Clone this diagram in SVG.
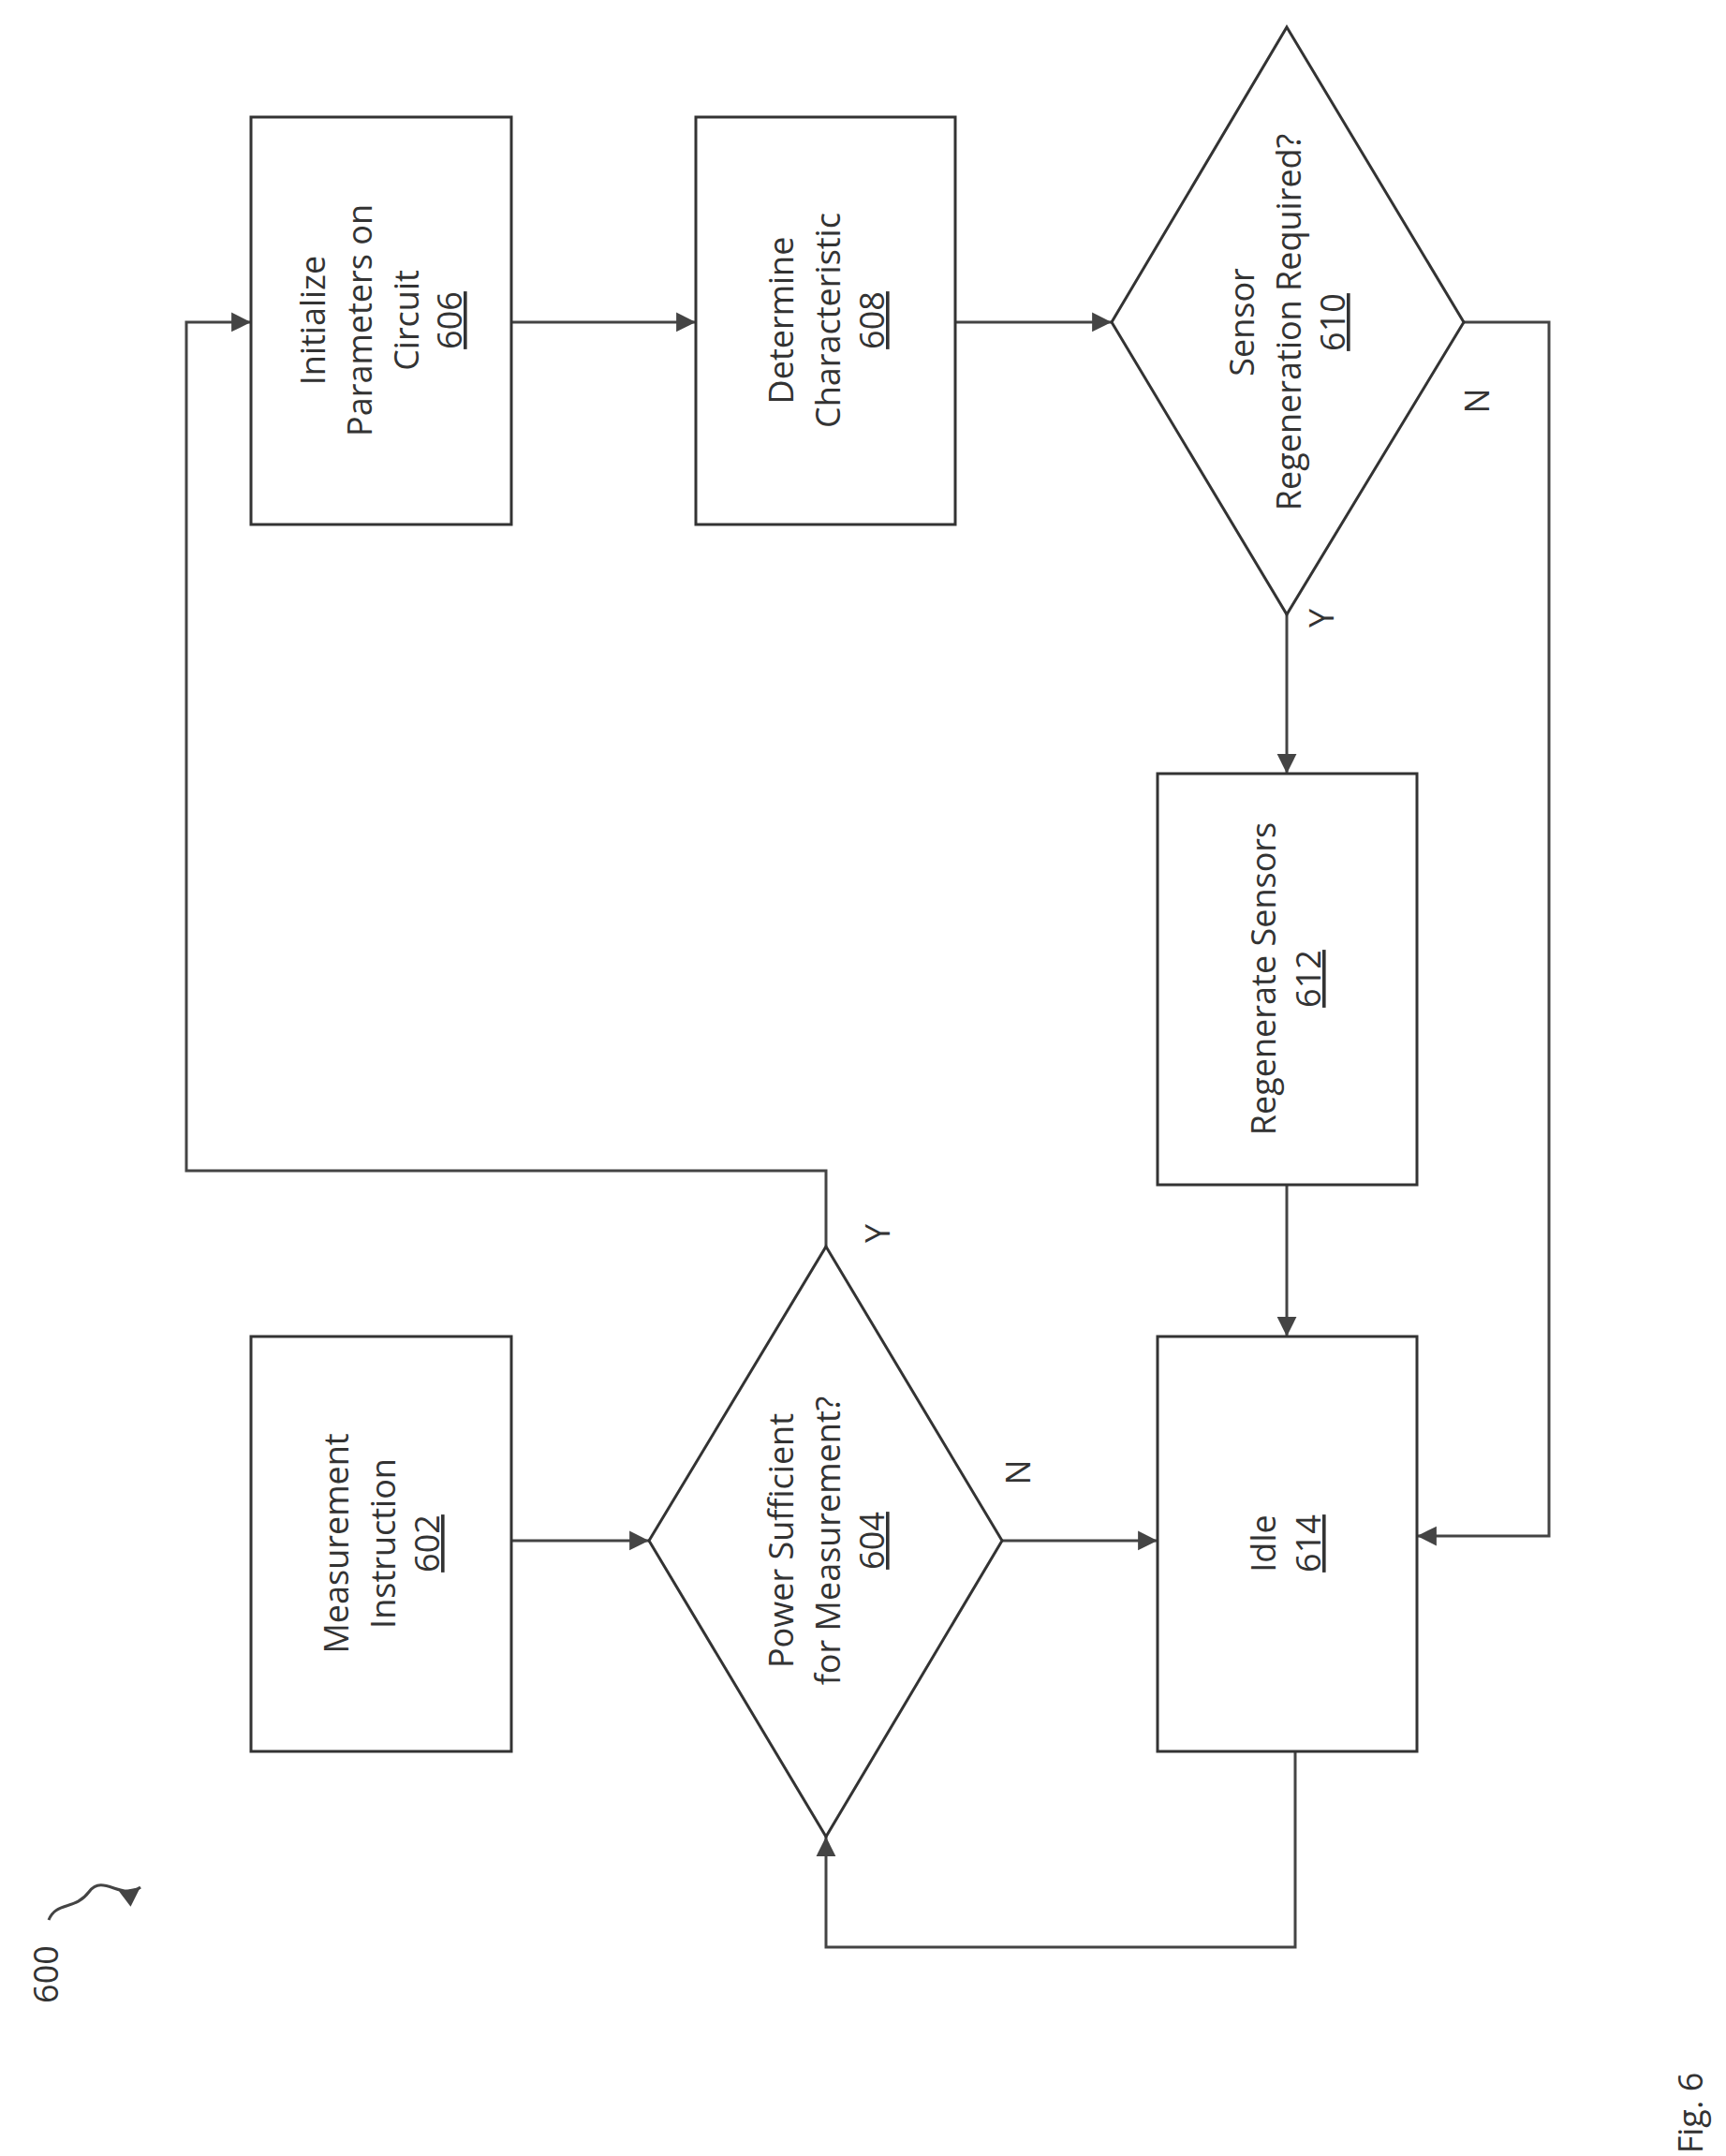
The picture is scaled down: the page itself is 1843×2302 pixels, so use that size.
<svg xmlns="http://www.w3.org/2000/svg" width="1843" height="2302" viewBox="0 0 1843 2302">
<style>
.n{fill:#fff;stroke:#333;stroke-width:3}
.c{fill:none;stroke:#444;stroke-width:3}
text{font-family:"Open Sans","Liberation Sans",sans-serif;font-size:36px;fill:#333;text-anchor:middle}
.u{text-decoration:underline}
</style>
<defs>
<marker id="a" viewBox="0 0 10 10" refX="10" refY="5" markerWidth="8" markerHeight="8" markerUnits="userSpaceOnUse" orient="auto" style="overflow:visible">
<path d="M0,0 L10,5 L0,10 z" fill="#444" transform="scale(2.6) translate(-6.2,-3.1)"/>
</marker>
</defs>
<g id="connectors">
<path class="c" d="M546,1645 H693" marker-end="url(#a)"/>
<path class="c" d="M1070,1645 H1236" marker-end="url(#a)"/>
<path class="c" d="M882,1331 V1250 H199 V344 H268" marker-end="url(#a)"/>
<path class="c" d="M546,344 H743" marker-end="url(#a)"/>
<path class="c" d="M1020,344 H1187" marker-end="url(#a)"/>
<path class="c" d="M1374,656 V826" marker-end="url(#a)"/>
<path class="c" d="M1563,344 H1654 V1640 H1513" marker-end="url(#a)"/>
<path class="c" d="M1374,1265 V1427" marker-end="url(#a)"/>
<path class="c" d="M1383,1870 V2079 H882 V1961" marker-end="url(#a)"/>
<path class="c" d="M52,2050 C60,2030 80,2040 95,2020 C110,2000 130,2030 150,2015" marker-end="url(#a)"/>
</g>
<g id="n602"><rect class="n" x="268" y="1427" width="278" height="443"/>
<g transform="translate(407,1648) rotate(-90)"><text y="-35">Measurement</text><text y="15">Instruction</text><text y="62" class="u">602</text></g></g>
<g id="n604"><polygon class="n" points="882,1331 1070,1645 882,1961 693,1645"/>
<g transform="translate(882,1645) rotate(-90)"><text y="-35">Power Sufficient</text><text y="15">for Measurement?</text><text y="62" class="u">604</text></g></g>
<g id="n606"><rect class="n" x="268" y="125" width="278" height="435"/>
<g transform="translate(407,342) rotate(-90)"><text y="-60">Initialize</text><text y="-10">Parameters on</text><text y="40">Circuit</text><text y="86" class="u">606</text></g></g>
<g id="n608"><rect class="n" x="743" y="125" width="277" height="435"/>
<g transform="translate(882,342) rotate(-90)"><text y="-35">Determine</text><text y="15">Characteristic</text><text y="62" class="u">608</text></g></g>
<g id="n610"><polygon class="n" points="1374,29 1563,344 1374,656 1187,344"/>
<g transform="translate(1374,344) rotate(-90)"><text y="-35">Sensor</text><text y="15">Regeneration Required?</text><text y="62" class="u">610</text></g></g>
<g id="n612"><rect class="n" x="1236" y="826" width="277" height="439"/>
<g transform="translate(1374,1045) rotate(-90)"><text y="-12">Regenerate Sensors</text><text y="36" class="u">612</text></g></g>
<g id="n614"><rect class="n" x="1236" y="1427" width="277" height="443"/>
<g transform="translate(1374,1648) rotate(-90)"><text y="-12">Idle</text><text y="36" class="u">614</text></g></g>
<g id="labels">
<text transform="translate(1100,1572) rotate(-90)">N</text>
<text transform="translate(950,1317) rotate(-90)">Y</text>
<text transform="translate(1424,660) rotate(-90)">Y</text>
<text transform="translate(1590,428) rotate(-90)">N</text>
<text transform="translate(62,2108) rotate(-90)">600</text>
<text transform="translate(1818,2256) rotate(-90)">Fig. 6</text>
</g>
</svg>
